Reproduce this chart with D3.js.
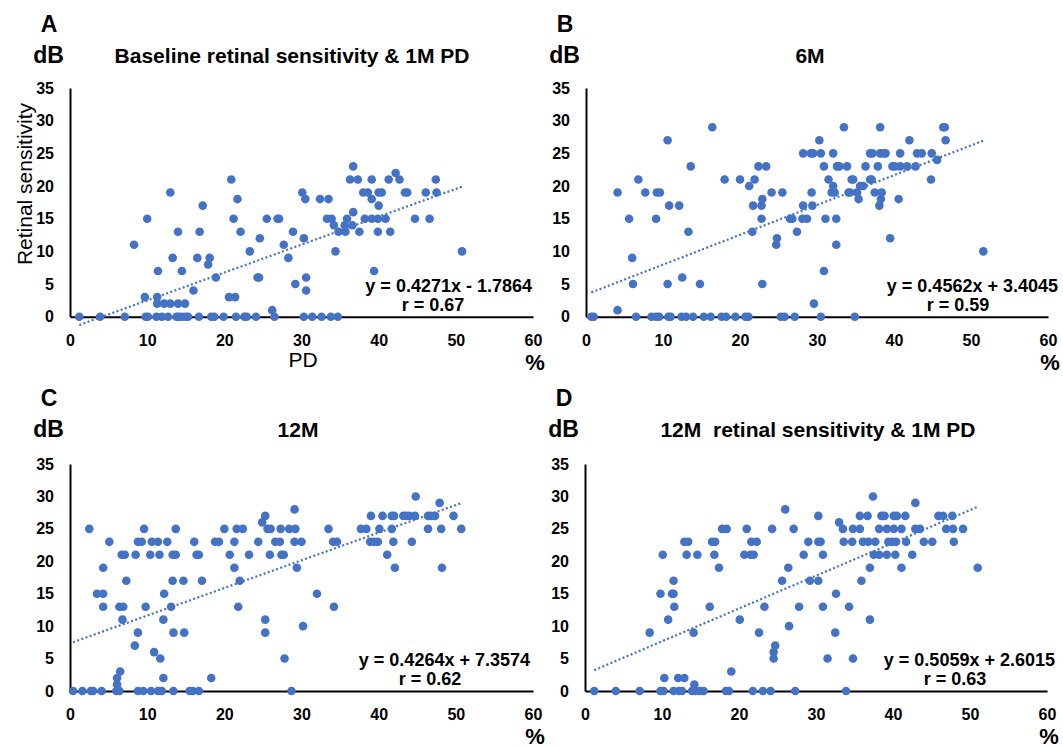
<!DOCTYPE html>
<html>
<head>
<meta charset="utf-8">
<script src="https://cdn.jsdelivr.net/npm/d3@7"></script>
<style>
  body { margin: 0; background: #fff; }
  svg text { font-family: "Liberation Sans", Arial, sans-serif; white-space: pre; }
</style>
</head>
<body>
<script>
// Panel texts
const panelLetters = ['A', 'B', 'C', 'D']
const panelTitles  = ['Baseline retinal sensitivity & 1M PD', '6M', '12M', '12M  retinal sensitivity & 1M PD']
// Trend lines (from the figure)
const slopes     = [0.4271, 0.4562, 0.4264, 0.5059]
const intercepts = [-1.7864, 3.4045, 7.3574, 2.6015]
const rValues    = ['0.67', '0.59', '0.62', '0.63']
// Ticks
const xTicks = [0, 10, 20, 30, 40, 50, 60]
const yTicks = [0, 5, 10, 15, 20, 25, 30, 35]

// [PD %, retinal sensitivity dB]
const pointsA = [
  [1.2,0],[3.9,0],[7.1,0],[9.8,0],[10.1,0],[11.2,0],[11.9,0],[12.7,0],[13.8,0],[14.1,0],[14.5,0],[15.0,0],[15.3,0],
  [16.7,0],[18.3,0],[18.7,0],[19.9,0],[21.5,0],[22.6,0],[22.9,0],[24.1,0],[26.5,0],[30.3,0],[31.4,0],[32.6,0],[33.8,0],[34.7,0],
  [26.2,1],
  [11.3,2],[12.2,2],[13.0,2],[14.0,2],[14.9,2],
  [9.7,3],[11.3,3],[20.6,3],[21.4,3],
  [16.0,4],[30.6,4],
  [29.2,5],
  [18.9,6],[24.3,6],[24.5,6],[30.6,6],
  [11.4,7],[14.5,7],[39.4,7],
  [17.9,8],
  [13.3,9],[16.5,9],[18.1,9],[28.3,9],
  [23.3,10],[34.4,10],[50.8,10],
  [8.3,11],[27.7,11],
  [24.6,12],[30.3,12],
  [14.0,13],[16.8,13],[22.1,13],[28.9,13],[34.8,13],[35.7,13],[37.5,13],[39.9,13],[41.5,13],
  [34.2,14],[35.6,14],[36.6,14],
  [10.0,15],[21.2,15],[25.5,15],[26.9,15],[27.1,15],[33.3,15],[33.9,15],[35.9,15],[38.2,15],[39.1,15],[39.9,15],[40.9,15],[44.7,15],[46.6,15],
  [36.7,16],
  [17.2,17],[40.0,17],
  [21.7,18],[30.5,18],[32.4,18],[33.5,18],[39.1,18],
  [13.0,19],[30.1,19],[38.0,19],[38.6,19],[40.0,19],[40.4,19],[43.4,19],[43.7,19],[46.1,19],[47.5,19],
  [20.9,21],[36.3,21],[37.3,21],[39.1,21],[41.3,21],[42.7,21],[47.4,21],
  [42.2,22],
  [36.7,23]
]

const pointsB = [
  [0.7,0],[1.0,0],[6.5,0],[8.5,0],[9.1,0],[9.5,0],[10.7,0],[11.0,0],[12.4,0],[13.0,0],[13.9,0],[15.3,0],[16.2,0],[17.6,0],
  [18.2,0],[19.4,0],[20.7,0],[21.1,0],[25.3,0],[25.8,0],[27.1,0],[30.5,0],[34.9,0],
  [4.1,1],
  [29.6,2],
  [6.1,5],[10.6,5],[14.8,5],[22.9,5],
  [12.5,6],
  [30.9,7],
  [6.0,9],
  [51.6,10],
  [24.7,11],[32.5,11],
  [24.8,12],[39.5,12],
  [13.3,13],[21.6,13],[27.4,13],
  [5.6,15],[9.1,15],[22.8,15],[26.5,15],[26.8,15],[28.1,15],[28.7,15],[31.1,15],[32.5,15],
  [10.8,17],[12.1,17],[21.7,17],[22.8,17],[28.2,17],[29.4,17],[38.1,17],
  [22.9,18],[35.4,18],[38.3,18],[40.6,18],
  [4.1,19],[7.7,19],[9.2,19],[9.6,19],[24.1,19],[25.5,19],[29.3,19],[31.9,19],[32.3,19],[34.1,19],[34.3,19],[35.2,19],[37.5,19],[38.4,19],
  [21.2,20],[32.1,20],[35.6,20],[36.0,20],
  [6.8,21],[18.0,21],[20.0,21],[21.9,21],[31.5,21],[34.5,21],[34.7,21],[36.9,21],[37.1,21],[44.8,21],
  [13.6,23],[22.4,23],[23.4,23],[30.9,23],[32.6,23],[32.9,23],[33.9,23],[36.3,23],[37.9,23],[39.8,23],[40.1,23],[40.8,23],[41.7,23],[42.8,23],
  [45.6,24],
  [28.2,25],[29.2,25],[29.5,25],[30.5,25],[32.1,25],[36.9,25],[37.2,25],[38.2,25],[38.6,25],[38.9,25],[40.8,25],[43.0,25],[43.6,25],[44.9,25],
  [10.6,27],[30.3,27],[42.0,27],[46.7,27],
  [16.4,29],[33.5,29],[38.2,29],[46.4,29],[46.6,29]
]

const pointsC = [
  [0.4,0],[1.6,0],[2.7,0],[3.0,0],[4.1,0],[6.0,0],[6.4,0],[8.8,0],[9.5,0],[10.5,0],[11.4,0],[11.9,0],[13.4,0],[15.5,0],[15.9,0],[16.7,0],[28.7,0],
  [6.1,1],
  [6.1,2],[12.1,2],[18.3,2],
  [6.5,3],
  [11.7,5],[27.8,5],
  [10.9,6],
  [8.4,7],
  [8.8,9],[13.4,9],[14.8,9],[25.3,9],
  [30.2,10],
  [6.8,11],[12.1,11],[25.3,11],
  [4.3,13],[6.4,13],[6.9,13],[9.8,13],[13.1,13],[21.8,13],[34.2,13],
  [3.5,15],[4.3,15],[12.2,15],[32.0,15],
  [7.3,17],[13.3,17],[14.7,17],[17.1,17],[22.0,17],
  [4.3,19],[21.3,19],[29.4,19],[42.1,19],[48.2,19],
  [6.7,21],[7.1,21],[8.5,21],[10.4,21],[11.6,21],[13.3,21],[13.7,21],[16.4,21],[16.7,21],[20.7,21],[23.2,21],[25.9,21],[27.4,21],[27.7,21],[41.1,21],
  [5.1,23],[8.8,23],[9.3,23],[10.6,23],[11.4,23],[12.6,23],[16.1,23],[18.8,23],[19.3,23],[21.3,23],[24.4,23],[26.6,23],[27.2,23],[29.1,23],
  [30.0,23],[34.1,23],[34.6,23],[38.9,23],[39.4,23],[39.9,23],[41.9,23],[44.3,23],
  [2.5,25],[9.6,25],[13.7,25],[20.0,25],[21.6,25],[22.4,25],[25.6,25],[26.0,25],[27.3,25],[28.4,25],[29.2,25],[33.5,25],[37.7,25],
  [38.4,25],[40.1,25],[41.7,25],[46.4,25],[48.1,25],[50.7,25],
  [24.9,26],
  [25.3,27],[39.0,27],[40.5,27],[41.7,27],[42.0,27],[43.2,27],[43.6,27],[44.0,27],[44.7,27],[46.4,27],[46.8,27],[47.3,27],[49.7,27],
  [29.1,28],
  [47.9,29],
  [44.8,30]
]

const pointsD = [
  [1.2,0],[4.0,0],[7.1,0],[9.8,0],[10.2,0],[11.5,0],[12.2,0],[12.6,0],[13.9,0],[14.3,0],[14.9,0],[15.4,0],[18.3,0],[18.7,0],
  [21.8,0],[23.1,0],[24.1,0],[27.3,0],[33.9,0],
  [14.2,1],
  [10.3,2],[12.1,2],[12.9,2],
  [19.0,3],
  [24.5,5],[31.5,5],[34.8,5],
  [24.5,6],
  [24.7,7],
  [8.4,9],[14.1,9],[22.6,9],[32.5,9],
  [26.5,10],
  [10.8,11],[20.1,11],[37.0,11],
  [11.6,13],[16.2,13],[23.3,13],[27.8,13],[30.9,13],[34.3,13],
  [9.8,15],[11.3,15],[11.5,15],[32.6,15],
  [11.5,17],[25.6,17],[29.2,17],[30.3,17],[35.9,17],
  [17.4,19],[26.4,19],[37.0,19],[41.1,19],[51.0,19],
  [10.1,21],[13.2,21],[14.6,21],[16.8,21],[20.7,21],[21.5,21],[21.9,21],[28.4,21],[30.9,21],[37.5,21],[38.2,21],[39.2,21],[40.3,21],[42.5,21],
  [12.9,23],[13.4,23],[16.5,23],[16.9,23],[21.6,23],[22.3,23],[29.0,23],[30.3,23],[30.6,23],[33.6,23],[34.7,23],[36.1,23],[36.8,23],
  [37.7,23],[39.4,23],[39.9,23],[40.4,23],[41.7,23],[44.0,23],[45.1,23],[47.9,23],
  [17.8,25],[18.4,25],[21.0,25],[24.3,25],[27.1,25],[33.5,25],[34.8,25],[35.7,25],[38.2,25],[39.2,25],[40.1,25],[41.1,25],[42.9,25],
  [43.5,25],[46.9,25],[47.8,25],[49.1,25],
  [33.0,26],
  [30.3,27],[35.7,27],[36.7,27],[38.5,27],[38.9,27],[40.1,27],[40.5,27],[41.6,27],[45.9,27],[46.5,27],[47.7,27],
  [26.0,28],
  [42.9,29],
  [37.4,30]
]

const allPoints = [pointsA, pointsB, pointsC, pointsD]

// Layout of the four panels
var layout = [
  {x0: 70,  x1: 533,  yTop: 88,  yBase: 316.7, titleX: 292, eqEnd: 532,  rMid: 433},
  {x0: 586, x1: 1048, yTop: 88,  yBase: 316.7, titleX: 810, eqEnd: 1058, rMid: 958},
  {x0: 70,  x1: 533,  yTop: 464, yBase: 691,   titleX: 298, eqEnd: 530,  rMid: 430},
  {x0: 585, x1: 1047, yTop: 464, yBase: 691,   titleX: 818, eqEnd: 1055, rMid: 955}
]
var blue = '#4472C4'

let svg = d3.select('body')
            .append('svg')
            .attr('width', 1063)
            .attr('height', 746)
            .style('background', '#fff')

layout.forEach(function(p, i){
    let x = d3.scaleLinear().domain([0, 60]).range([p.x0, p.x1])
    let y = d3.scaleLinear().domain([0, 35]).range([p.yBase, p.yTop])
    let g = svg.append('g')

    // Axes
    let yAx = g.append('g')
               .attr('transform', 'translate(' + p.x0 + ',0)')
               .call(d3.axisLeft(y).tickValues(yTicks).tickSize(0).tickPadding(16))
    let xAx = g.append('g')
               .attr('transform', 'translate(0,' + p.yBase + ')')
               .call(d3.axisBottom(x).tickValues(xTicks).tickSize(0).tickPadding(18))
    ;[yAx, xAx].forEach(function(ax){
        ax.select('.domain').attr('stroke', '#000').attr('stroke-width', 2)
        ax.selectAll('text')
          .attr('fill', '#000')
          .style('font-size', '16px')
          .style('font-weight', 'bold')
          .style('font-family', '"Liberation Sans", Arial, sans-serif')
    })

    // Trend line over the data range
    let pts = allPoints[i]
    let ext = d3.extent(pts, d => d[0])
    g.append('line')
     .attr('x1', x(ext[0])).attr('y1', y(slopes[i] * ext[0] + intercepts[i]))
     .attr('x2', x(ext[1])).attr('y2', y(slopes[i] * ext[1] + intercepts[i]))
     .attr('stroke', blue)
     .attr('stroke-width', 2.2)
     .attr('stroke-dasharray', '2,2.4')

    // Points
    g.append('g')
     .selectAll('circle')
     .data(pts)
     .enter()
     .append('circle')
     .attr('cx', d => x(d[0]))
     .attr('cy', d => y(d[1]))
     .attr('r', 4.3)
     .attr('fill', blue)

    // Letter, unit, title
    g.append('text')
     .attr('x', p.x0 - 21).attr('y', p.yBase - 284.7)
     .attr('text-anchor', 'middle')
     .style('font-size', '23px').style('font-weight', 'bold')
     .text(panelLetters[i])
    g.append('text')
     .attr('x', p.x0 - 21.5).attr('y', p.yBase - 253.7)
     .attr('text-anchor', 'middle')
     .style('font-size', '23px').style('font-weight', 'bold')
     .text('dB')
    g.append('text')
     .attr('x', p.titleX).attr('y', p.yBase - 253.7)
     .attr('text-anchor', 'middle')
     .style('font-size', '21px').style('font-weight', 'bold')
     .text(panelTitles[i])
    g.append('text')
     .attr('x', p.x1 + 2).attr('y', p.yBase + 53)
     .attr('text-anchor', 'middle')
     .style('font-size', '22px').style('font-weight', 'bold')
     .text('%')

    // Equation and r
    let sign = intercepts[i] < 0 ? '- ' : '+ '
    g.append('text')
     .attr('x', p.eqEnd).attr('y', p.yBase - 25)
     .attr('text-anchor', 'end')
     .style('font-size', '18px').style('font-weight', 'bold')
     .text('y = ' + slopes[i].toFixed(4) + 'x ' + sign + Math.abs(intercepts[i]).toFixed(4))
    g.append('text')
     .attr('x', p.rMid).attr('y', p.yBase - 6)
     .attr('text-anchor', 'middle')
     .style('font-size', '18px').style('font-weight', 'bold')
     .text('r = ' + rValues[i])
})

// Axis titles of panel A
svg.append('text')
   .attr('transform', 'translate(32,184) rotate(-90)')
   .attr('text-anchor', 'middle')
   .style('font-size', '21px')
   .text('Retinal sensitivity')
svg.append('text')
   .attr('x', 303).attr('y', 367)
   .attr('text-anchor', 'middle')
   .style('font-size', '21px')
   .text('PD')
</script>
</body>
</html>
